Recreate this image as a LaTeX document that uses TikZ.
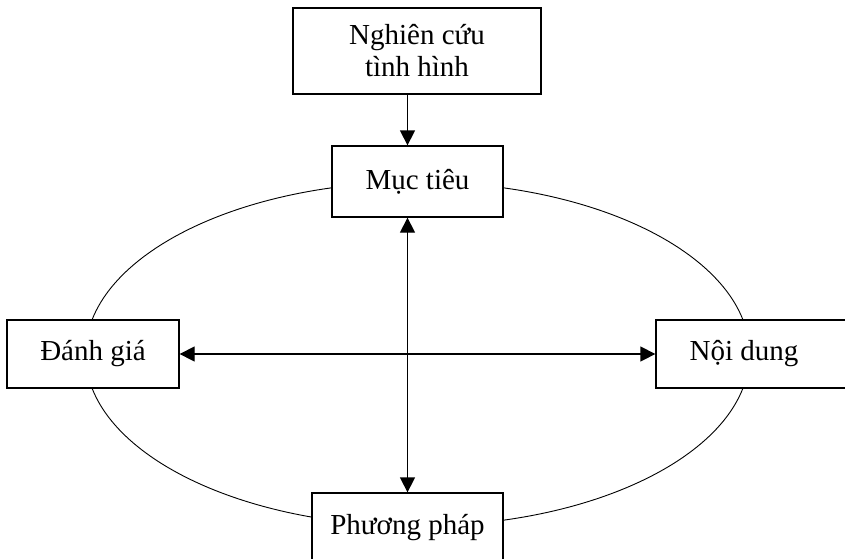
\documentclass[tikz,border=0pt]{standalone}
\usepackage{fontspec}
\setmainfont{Liberation Serif}
\usetikzlibrary{arrows.meta}

\begin{document}
\begin{tikzpicture}[x=1pt,y=-1pt,>={Triangle[length=15pt,width=15pt]},
  box/.style={rectangle,draw=black,line width=1.3pt,fill=white,inner sep=0pt,
    font=\fontsize{29}{32}\selectfont,align=center},
  link/.style={line width=1.3pt}]
\useasboundingbox (0,0) rectangle (845,558);
\clip (0,0) rectangle (845,558);
% \draw[help lines] (0,0) grid[step=50] (845,558);
\draw[line width=0.9pt] (417.5,354) ellipse [x radius=332,y radius=172];
%
\node (nc) [box,minimum width=248,minimum height=86] at (417,51) {Nghiên cứu\\tình hình};
\node (mt) [box,minimum width=171,minimum height=71] at (417.5,181.5) {Mục tiêu};
\node (dg) [box,minimum width=172,minimum height=68] at (93,354) {Đánh giá};
\node (nd) [box,minimum width=200,minimum height=68] at (756,354) {\hspace*{-24pt}Nội dung};
\node (pp) [box,minimum width=191,minimum height=70] at (407.5,528) {\raisebox{3pt}{Phương pháp}};
%
\path[->,link] (pp.north |- nc.south) edge (pp.north |- mt.north);
\path[<->,link] (pp.north |- mt.south) edge (pp.north);
\path[<->,link] (dg.east) edge (nd.west);
\end{tikzpicture}
\end{document}
